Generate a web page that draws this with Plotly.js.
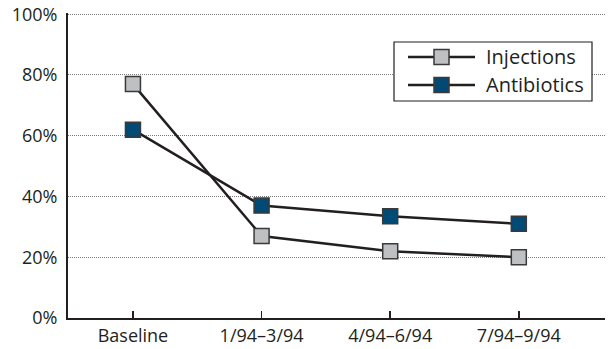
<!DOCTYPE html>
<html>
<head>
<meta charset="utf-8">
<script src="https://cdn.plot.ly/plotly-3.0.1.min.js"></script>
<style>html,body{margin:0;padding:0;background:#fff;}</style>
</head>
<body>
<div id="chart" style="width:608px;height:349px;"></div>
<script>
const categories = ["Baseline", "1/94\u20133/94", "4/94\u20136/94", "7/94\u20139/94"];
const injections = [77, 27, 22, 20];
const antibiotics = [62, 37, 33.5, 31];
const seriesNames = ["Injections", "Antibiotics"];
const seriesColors = ["#bfc0c2", "#004a75"];
const yTickVals = [0, 20, 40, 60, 80, 100];
const yTickText = ["0%", "20%", "40%", "60%", "80%", "100%"];

const font = "Open Sans, Noto Sans, sans-serif";
const W = 608, H = 349;
const M = {l: 68, r: 3, t: 13, b: 31};
const PW = W - M.l - M.r, PH = H - M.t - M.b;
const px = x => (x - M.l) / PW;
const py = y => (H - M.b - y) / PH;

const seriesData = [injections, antibiotics];
const traces = seriesData.map((vals, i) => ({
  x: [0,1,2,3], y: vals, name: seriesNames[i], type: "scatter", mode: "lines+markers",
  showlegend: false,
  line: {color: "#231f20", width: 2.5},
  marker: {symbol: "square", size: 15, color: seriesColors[i], line: {color: "#3a3a3a", width: 1.5}}
}));

// custom legend (longer line samples as in the reference)
const shapes = [{
  type: "rect", xref: "paper", yref: "paper",
  x0: px(394), x1: px(592), y0: py(42), y1: py(101),
  line: {color: "#231f20", width: 1.2}, fillcolor: "#fff", layer: "above"
}];
const annotations = [];
seriesNames.forEach((n, i) => {
  const cy = 57 + i * 28;
  shapes.push({type: "line", xref: "paper", yref: "paper",
    x0: px(408), x1: px(475), y0: py(cy), y1: py(cy),
    line: {color: "#231f20", width: 2.5}, layer: "above"});
  shapes.push({type: "rect", xref: "paper", yref: "paper",
    x0: px(434), x1: px(449), y0: py(cy - 7.5), y1: py(cy + 7.5),
    fillcolor: seriesColors[i], line: {color: "#3a3a3a", width: 1.5}, layer: "above"});
  annotations.push({xref: "paper", yref: "paper", x: px(484), y: py(cy),
    xanchor: "left", yanchor: "middle", text: n, showarrow: false,
    font: {family: font, size: 20, color: "#231f20"}});
});

const layout = {
  width: W, height: H,
  margin: M,
  paper_bgcolor: "#fff", plot_bgcolor: "#fff",
  font: {family: font, size: 19, color: "#231f20"},
  showlegend: false,
  shapes: shapes, annotations: annotations,
  xaxis: {
    range: [-0.505, 3.67],
    tickvals: [0,1,2,3], ticktext: categories,
    tickfont: {family: font, size: 18, color: "#231f20"},
    ticks: "inside", ticklen: 7, tickwidth: 1.5, tickcolor: "#231f20",
    showline: true, linecolor: "#231f20", linewidth: 2,
    showgrid: false, zeroline: false, fixedrange: true,
    ticklabelstandoff: 0, ticklabeloverflow: "allow"
  },
  yaxis: {
    range: [0, 100.4],
    tickvals: yTickVals, ticktext: yTickText,
    tickfont: {family: font, size: 18, color: "#231f20"},
    ticks: "", showline: true, linecolor: "#231f20", linewidth: 2,
    showgrid: true, gridcolor: "#7a7a7a", gridwidth: 1, griddash: "1px,1px",
    zeroline: false, fixedrange: true, ticklabelstandoff: 5,
    ticklabeloverflow: "allow"
  }
};

Plotly.newPlot("chart", traces, layout, {displayModeBar: false, staticPlot: true});
</script>
</body>
</html>
